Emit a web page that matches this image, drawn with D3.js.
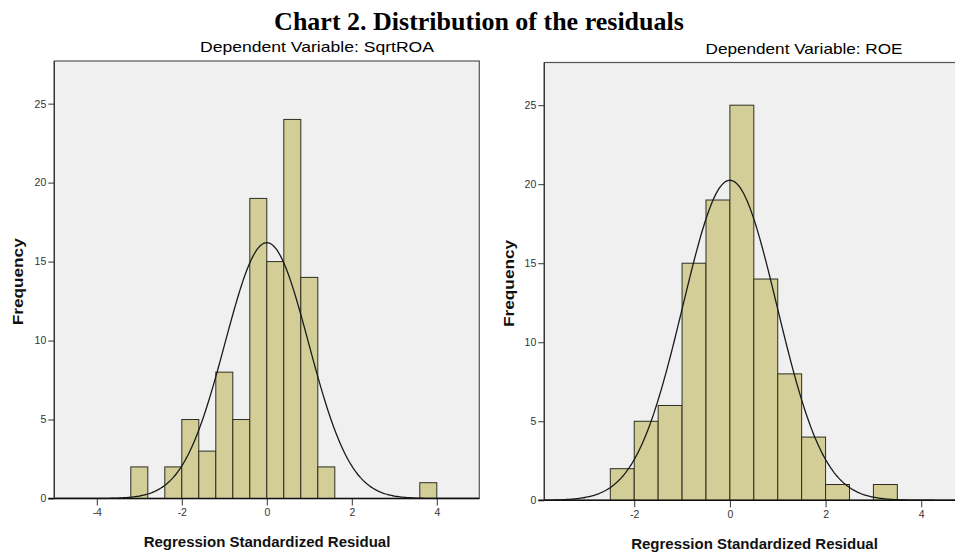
<!DOCTYPE html>
<html>
<head>
<meta charset="utf-8">
<script src="https://cdn.jsdelivr.net/npm/d3@7"></script>
<style>
  body { margin: 0; background: #fff; }
  svg { display: block; font-family: "Liberation Sans", Arial, sans-serif; }
</style>
</head>
<body>
<svg id="chart" width="955" height="553"></svg>
<script>
// Histogram of residuals, SqrtROA model (bin width 0.4)
const roaBinStart = [-3.2, -2.4, -2.0, -1.6, -1.2, -0.8, -0.4, 0.0, 0.4, 0.8, 1.2, 3.6];
const roaCounts   = [2, 2, 5, 3, 8, 5, 19, 15, 24, 14, 2, 1];
const roaBinWidth = 0.4;
// Histogram of residuals, ROE model (bin width 0.5)
const roeBinStart = [-2.5, -2.0, -1.5, -1.0, -0.5, 0.0, 0.5, 1.0, 1.5, 2.0, 3.0];
const roeCounts   = [2, 5, 6, 15, 19, 25, 14, 8, 4, 1, 1];
const roeBinWidth = 0.5;
// normal curve parameters (SPSS: mean ~0, std dev ~0.985, N = 100)
const curveMean = 0, curveSd = 0.985, curveN = 100;

const roaXTicks = [-4, -2, 0, 2, 4];
const roeXTicks = [-2, 0, 2, 4];
const yTicks = [0, 5, 10, 15, 20, 25];

const svg = d3.select("#chart");

svg.append("text")
    .attr("x", 479).attr("y", 30)
    .attr("text-anchor", "middle")
    .style("font-family", "'Liberation Serif', 'Times New Roman', serif")
    .style("font-weight", "bold").style("font-size", "26px")
    .text("Chart 2. Distribution of the residuals");

const panels = [
    { id: "roa", title: "Dependent Variable: SqrtROA", titleX: 317, titleY: 51.5, titleLen: 234,
      starts: roaBinStart, counts: roaCounts, bw: roaBinWidth, xTicks: roaXTicks,
      xDom: [-5, 5], left: 54.3, right: 479.3, top: 61, bottom: 498.5, ylabX: 17.5, xlabX: 267, xlabY: 547 },
    { id: "roe", title: "Dependent Variable: ROE", titleX: 804, titleY: 54, titleLen: 197,
      starts: roeBinStart, counts: roeCounts, bw: roeBinWidth, xTicks: roeXTicks,
      xDom: [-3.88, 4.9], left: 544.3, right: 964.3, top: 62.5, bottom: 500.3, ylabX: 509, xlabX: 754.5, xlabY: 549 }
];

panels.forEach(p => {
    const x = d3.scaleLinear().domain(p.xDom).range([p.left, p.right]);
    const y = d3.scaleLinear().domain([0, 27.7]).range([p.bottom, p.top]);
    const g = svg.append("g");

    // sub title
    g.append("text")
        .attr("x", p.titleX).attr("y", p.titleY)
        .attr("text-anchor", "middle")
        .attr("textLength", p.titleLen).attr("lengthAdjust", "spacingAndGlyphs")
        .style("font-size", "14.5px").attr("fill", "#000")
        .text(p.title);

    // plot background + frame
    g.append("rect")
        .attr("x", p.left).attr("y", p.top)
        .attr("width", p.right - p.left).attr("height", p.bottom - p.top)
        .attr("fill", "#f0f0f0").attr("stroke", "#555").attr("stroke-width", 1.2);

    g.append("clipPath").attr("id", "clip-" + p.id)
        .append("rect")
        .attr("x", p.left).attr("y", p.top)
        .attr("width", p.right - p.left).attr("height", p.bottom - p.top);

    // bars
    g.append("g").selectAll("rect")
        .data(p.starts.map((s, i) => ({ s, c: p.counts[i] })))
        .join("rect")
        .attr("x", d => x(d.s))
        .attr("y", d => y(d.c))
        .attr("width", d => x(d.s + p.bw) - x(d.s))
        .attr("height", d => y(0) - y(d.c))
        .attr("fill", "#d3ce97")
        .attr("stroke", "#2e2e22").attr("stroke-width", 1);

    // normal curve
    const pts = d3.range(p.xDom[0], p.xDom[1] + 0.001, (p.xDom[1] - p.xDom[0]) / 300).map(v => [v,
        curveN * p.bw / (curveSd * Math.sqrt(2 * Math.PI)) * Math.exp(-0.5 * ((v - curveMean) / curveSd) ** 2)]);
    g.append("path")
        .datum(pts)
        .attr("clip-path", "url(#clip-" + p.id + ")")
        .attr("fill", "none").attr("stroke", "#1a1a1a").attr("stroke-width", 1.3)
        .attr("d", d3.line().x(d => x(d[0])).y(d => y(d[1])));

    // axes
    const yAxis = g.append("g").attr("transform", `translate(${p.left},0)`)
        .call(d3.axisLeft(y).tickValues(yTicks).tickFormat(d => String(d)).tickSize(6).tickPadding(2));
    yAxis.select(".domain").remove();
    yAxis.selectAll("line").attr("stroke", "#333");
    yAxis.selectAll("text").style("font-size", "10.5px").attr("fill", "#333").style("font-family", "'Liberation Sans', Arial, sans-serif");

    const xAxis = g.append("g").attr("transform", `translate(0,${p.bottom})`)
        .call(d3.axisBottom(x).tickValues(p.xTicks).tickFormat(d => String(d)).tickSize(7).tickPadding(3));
    xAxis.select(".domain").remove();
    xAxis.selectAll("line").attr("stroke", "#333");
    xAxis.selectAll("text").style("font-size", "10.5px").attr("fill", "#333").style("font-family", "'Liberation Sans', Arial, sans-serif");

    g.append("line")
        .attr("x1", p.left - 6).attr("x2", p.right)
        .attr("y1", p.bottom).attr("y2", p.bottom)
        .attr("stroke", "#111").attr("stroke-width", 1.6);
    g.append("line")
        .attr("x1", p.left).attr("x2", p.left)
        .attr("y1", p.top).attr("y2", p.bottom)
        .attr("stroke", "#333").attr("stroke-width", 1.2);

    // axis titles
    g.append("text")
        .attr("transform", `translate(${p.ylabX + 5},${(p.top + p.bottom) / 2 + 2}) rotate(-90)`)
        .attr("text-anchor", "middle")
        .attr("textLength", 87).attr("lengthAdjust", "spacingAndGlyphs")
        .style("font-weight", "bold").style("font-size", "14px").attr("fill", "#111")
        .text("Frequency");

    g.append("text")
        .attr("x", p.xlabX).attr("y", p.xlabY)
        .attr("text-anchor", "middle")
        .style("font-weight", "bold").style("font-size", "15px").attr("fill", "#111")
        .text("Regression Standardized Residual");
});
</script>
</body>
</html>
